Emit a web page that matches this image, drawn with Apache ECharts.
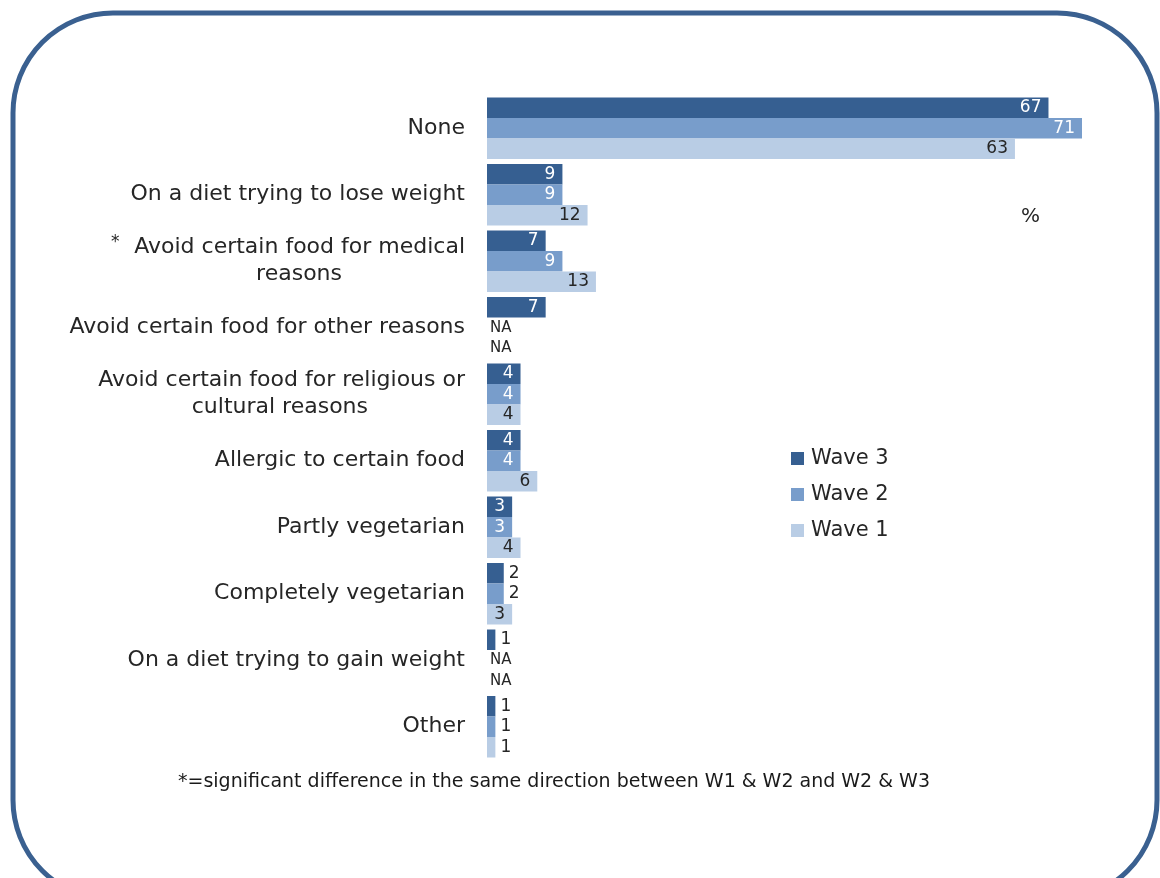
<!DOCTYPE html>
<html>
<head>
<meta charset="utf-8">
<script src="https://cdn.jsdelivr.net/npm/echarts@6/dist/echarts.min.js"></script>
<style>
  html, body { margin: 0; padding: 0; background: #fff; }
  #chart { width: 1160px; height: 878px; }
</style>
</head>
<body>
<div id="chart"></div>
<script>
const categories = [
    'None',
    'On a diet trying to lose weight',
    'Avoid certain food for medical\nreasons',
    'Avoid certain food for other reasons',
    'Avoid certain food for religious or\ncultural reasons',
    'Allergic to certain food',
    'Partly vegetarian',
    'Completely vegetarian',
    'On a diet trying to gain weight',
    'Other'
]
// null = NA
const wave3 = [67, 9, 7, 7, 4, 4, 3, 2, 1, 1]
const wave2 = [71, 9, 9, null, 4, 4, 3, 2, null, 1]
const wave1 = [63, 12, 13, null, 4, 6, 4, 3, null, 1]

const COLORS = { 'Wave 3': '#365f91', 'Wave 2': '#789dcb', 'Wave 1': '#b9cde5' }
const TEXT = '#262626'
const FONT = 'DejaVu Sans'

// second lines of wrapped labels are not right aligned in the original
const wrapPad = { 'reasons': 123, 'cultural reasons': 97 }

const toData = (values, insideColor) => values.map(v => {
    if (v === null) {
        return { value: 0, label: { position: 'right', distance: 3, formatter: 'NA', color: TEXT, fontSize: 15 } }
    }
    if (v < 3) {
        return { value: v, label: { position: 'right', distance: 5, color: TEXT } }
    }
    return { value: v, label: { color: insideColor } }
})

const makeSeries = (name, values, insideColor) => ({
    name: name,
    type: 'bar',
    data: toData(values, insideColor),
    barWidth: 20.5,
    barGap: '0%',
    itemStyle: { color: COLORS[name] },
    label: {
        show: true,
        position: 'insideRight',
        distance: 7,
        fontFamily: FONT,
        fontSize: 17
    }
})

window.addEventListener('DOMContentLoaded', () => {
    const chart = echarts.init(document.getElementById('chart'))

    chart.setOption({
        animation: false,
        textStyle: { fontFamily: FONT },
        grid: { left: 487, right: 78, top: 95, bottom: 118, containLabel: false },
        legend: {
            data: ['Wave 3', 'Wave 2', 'Wave 1'],
            orient: 'vertical',
            left: 786,
            top: 443,
            itemWidth: 13,
            itemHeight: 13,
            itemGap: 15,
            icon: 'rect',
            textStyle: { fontFamily: FONT, fontSize: 21, color: TEXT, padding: [0, 0, 0, 2] }
        },
        xAxis: {
            type: 'value',
            min: 0,
            max: 71,
            show: false
        },
        yAxis: {
            type: 'category',
            data: categories,
            inverse: true,
            axisLine: { show: false },
            axisTick: { show: false },
            splitLine: { show: false },
            axisLabel: {
                margin: 22,
                fontFamily: FONT,
                fontSize: 22,
                lineHeight: 27,
                color: TEXT,
                formatter: value => value.split('\n').map((line, i) => {
                    if (i === 0 || !wrapPad[line]) return line
                    return '{p' + wrapPad[line] + '|' + line + '}'
                }).join('\n'),
                rich: {
                    p123: { fontFamily: FONT, fontSize: 22, color: TEXT, lineHeight: 27, padding: [0, 123, 0, 0] },
                    p97: { fontFamily: FONT, fontSize: 22, color: TEXT, lineHeight: 27, padding: [0, 97, 0, 0] }
                }
            }
        },
        graphic: [
            {
                type: 'rect',
                shape: { x: 13, y: 13, width: 1144, height: 887, r: 100 },
                style: { fill: 'none', stroke: '#3a6090', lineWidth: 5 },
                silent: true
            },
            {
                type: 'text',
                left: 111,
                top: 234,
                style: { text: '*', fontFamily: FONT, fontSize: 17, fill: TEXT }
            },
            {
                type: 'text',
                left: 1021,
                top: 207,
                style: { text: '%', fontFamily: FONT, fontSize: 20, fill: TEXT }
            },
            {
                type: 'text',
                left: 178,
                top: 773,
                style: {
                    text: '*=significant difference in the same direction between W1 & W2 and W2 & W3',
                    fontFamily: FONT,
                    fontSize: 19,
                    fill: '#1a1a1a'
                }
            }
        ],
        series: [
            makeSeries('Wave 3', wave3, '#ffffff'),
            makeSeries('Wave 2', wave2, '#ffffff'),
            makeSeries('Wave 1', wave1, TEXT)
        ]
    })
})
</script>
</body>
</html>
